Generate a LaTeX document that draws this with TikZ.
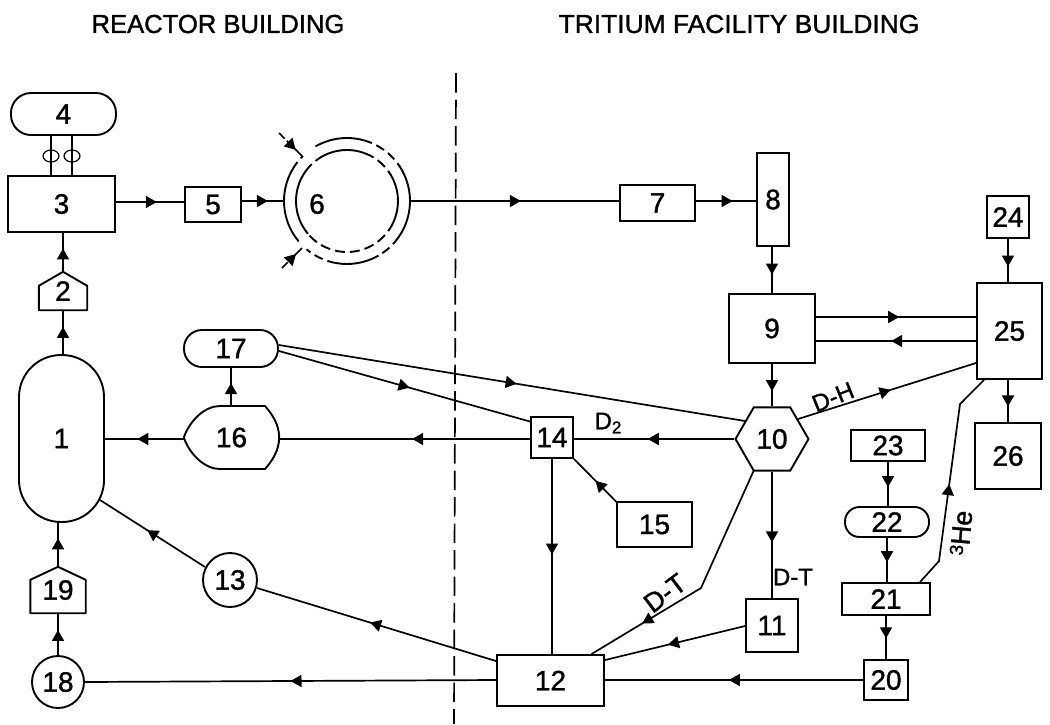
\documentclass[tikz,border=0pt]{standalone}
\usepackage{fontspec}
\setmainfont[FakeBold=0.6]{Liberation Sans}
\newfontfamily\heavy[FakeBold=1.2]{Liberation Sans}
\usetikzlibrary{arrows.meta,decorations.markings,shapes.geometric}
\tikzset{
  conn/.style={line width=1.7pt},
  mid/.style={postaction={decorate},decoration={markings,mark=at position #1 with {\arrow{Triangle[length=11pt,width=12pt]}}}},
  box/.style={draw,line width=1.9pt,rectangle,inner sep=0pt,font=\numfont,minimum width=#1},
  plainshape/.style={rectangle,inner sep=0pt,font=\numfont,minimum width=#1},
  round/.style={draw,line width=1.9pt,circle,inner sep=0pt,font=\numfont,minimum size=#1},
  lab/.style={font=\labfont,inner sep=0pt},
  outline/.style={line width=1.9pt,line join=round},
}
\newcommand{\numfont}{\heavy\fontsize{28}{28}\selectfont}
\newcommand{\labfont}{\heavy\fontsize{24}{24}\selectfont}
\begin{document}
\begin{tikzpicture}[x=1pt,y=-1pt]
\useasboundingbox (0,0) rectangle (1050,724);
\fill[white] (0,0) rectangle (1050,724);
\node[inner sep=0pt,font=\heavy\fontsize{26}{26}\selectfont] (tleft) at (218,24) {\scalebox{.985}[1]{REACTOR BUILDING}};
\node[inner sep=0pt,font=\heavy\fontsize{26}{26}\selectfont] (tright) at (739,24) {\scalebox{1.015}[1]{TRITIUM FACILITY BUILDING}};
\coordinate (divtop) at (456,73);
\coordinate (divbot) at (454,724);
\draw[line width=1.7pt,dash pattern=on 19.5pt off 7pt] (divtop) -- (divbot);
% nodes
\node[box=85,minimum height=167,rounded corners=42pt] (n1) at (61.5,438.5) {1};
\node[plainshape=48,minimum height=38] (n2) at (63,291) {\raisebox{-4pt}{2}};
\draw[outline] (n2.south west) -- (n2.south east) -- ([shift={(0,14)}]n2.north east) -- (n2.north) -- ([shift={(0,14)}]n2.north west) -- cycle;
\node[box=107,minimum height=56] (n3) at (61.5,204) {3};
\node[box=105,minimum height=42,rounded corners=20pt] (n4) at (63.5,114) {4};
\node[box=56,minimum height=35] (n5) at (213,204.5) {5};
\node[circle,minimum size=126,inner sep=0pt] (n6) at (347,201) {};
\node[inner sep=0pt,font=\numfont] (n6t) at (317,204) {6};
\begin{scope}[line width=1.9pt]
  \foreach \a/\b in {140/210,240/285,330/395,60/100}{\draw (n6.center) ++(\a:63) arc[start angle=\a,end angle=\b,radius=63];}
  \foreach \a/\b in {210/225,285/330,35/60,100/130}{\draw[dash pattern=on 9pt off 5pt] (n6.center) ++(\a:63) arc[start angle=\a,end angle=\b,radius=63];}
  \foreach \a/\b in {140/215,235/290,335/385}{\draw (n6.center) ++(\a:51) arc[start angle=\a,end angle=\b,radius=51];}
  \foreach \a/\b in {215/235,290/335,25/140}{\draw[dash pattern=on 10pt off 5pt] (n6.center) ++(\a:51) arc[start angle=\a,end angle=\b,radius=51];}
\end{scope}
\node[box=75,minimum height=36] (n7) at (657.5,203) {7};
\node[box=32,minimum height=93] (n8) at (773,199.5) {8};
\node[box=86,minimum height=69] (n9) at (772,328.5) {9};
\node[draw,line width=1.9pt,regular polygon,regular polygon sides=6,minimum size=73,inner sep=0pt,font=\numfont] (n10) at (772,439) {10};
\node[box=52,minimum height=53] (n11) at (772,625.5) {11};
\node[box=107,minimum height=51] (n12) at (550.5,680.5) {12};
\node[round=54] (n13) at (230,580) {13};
\node[box=42,minimum height=41] (n14) at (552,437.5) {14};
\node[box=75,minimum height=45] (n15) at (654.5,524.5) {15};
\node[plainshape=95,minimum height=63] (n16) at (231.5,437.5) {16};
\draw[outline] (n16.west) .. controls (190,420) and (205,406) .. (220,406) -- (265,406)
  .. controls (273,415) and (279,425) .. (n16.east) .. controls (279,450) and (273,460) .. (265,469)
  -- (220,469) .. controls (205,469) and (190,455) .. (n16.west);
\node[box=94,minimum height=37,rounded corners=18pt] (n17) at (231,348.5) {17};
\node[round=52] (n18) at (58,682) {18};
\node[plainshape=55,minimum height=46] (n19) at (58,590) {\raisebox{-2pt}{19}};
\draw[outline] (n19.south west) -- (n19.south east) -- ([shift={(0,13)}]n19.north east) -- (n19.north) -- ([shift={(0,13)}]n19.north west) -- cycle;
\node[box=44,minimum height=40] (n20) at (886,680) {20};
\node[box=88,minimum height=32] (n21) at (886,599) {21};
\node[box=84,minimum height=30,rounded corners=14.5pt] (n22) at (887,522) {22};
\node[box=74,minimum height=31] (n23) at (888,445.5) {23};
\node[box=42,minimum height=42] (n24) at (1008,217) {24};
\node[box=65,minimum height=96] (n25) at (1009.5,331) {25};
\node[box=66,minimum height=66] (n26) at (1008,456) {26};
% valves between 4 and 3
\node[draw,line width=1.2pt,ellipse,minimum width=16,minimum height=12,inner sep=0pt] (v1) at (51,156) {};
\node[draw,line width=1.2pt,ellipse,minimum width=16,minimum height=12,inner sep=0pt] (v2) at (72,156) {};
\draw[conn] (v1.center|-n4.south) -- (v1.center|-n3.north);
\draw[conn] (v2.center|-n4.south) -- (v2.center|-n3.north);
% connectors
\draw[conn,mid=.62] (n1.north-|n2.north) -- (n2.south);
\draw[conn,mid=.6] (n2.north) -- (n2.north|-n3.south);
\draw[conn,mid=.6] ([shift={(0,-2)}]n3.east) -- ([shift={(0,-2.5)}]n5.west);
\draw[conn,mid=.62] ([shift={(0,-3.5)}]n5.east) -- (n6.west);
\draw[conn,mid=.53] (n6.east) -- (n6.east-|n7.west);
\draw[conn,mid=.61] ([shift={(0,-2)}]n7.east) -- (n8.west|-n6.east);
\draw[conn,mid=.6] (n9.north|-n8.south) -- (n9.north);
\draw[conn,mid=.64] (n9.south) -- (n9.south|-n10.north);
\draw[conn,mid=.52] ([shift={(0,-11.5)}]n9.east) -- ([shift={(0,-14)}]n25.west);
\draw[conn,mid=.53] ([shift={(0,10)}]n25.west) -- ([shift={(0,12.5)}]n9.east);
\draw[conn,mid=.64] (n24.south) -- (n24.south|-n25.north);
\draw[conn,mid=.63] (n26.north|-n25.south) -- (n26.north);
\draw[conn,mid=.52] ([shift={(26,-20)}]n10.center) -- ([shift={(0,32)}]n25.west);
\draw[conn,mid=.54] (n10.center-|n10.west) -- ([shift={(0,1.5)}]n14.east);
\draw[conn,mid=.47] ([shift={(0,1.5)}]n14.west) -- ([shift={(0,1.5)}]n16.east);
\draw[conn,mid=.59] ([shift={(0,1.5)}]n16.west) -- ([shift={(0,.5)}]n1.east);
\draw[conn,mid=.6] ([shift={(-.5,0)}]n16.north) -- ([shift={(0,0)}]n17.south);
\draw[conn,mid=.52] ([shift={(0,2.5)}]n17.east) -- ([shift={(0,5.5)}]n14.north west);
\draw[conn,mid=.51] ([shift={(0,-3.5)}]n17.east) -- ([shift={(-27,-18)}]n10.center);
\draw[conn,mid=.5] ([shift={(-37.5,-22)}]n15.center) -- (n14.south east);
\draw[conn,mid=.49] (n14.south) -- (n14.south|-n12.north);
\draw[conn,mid=.77] ([shift={(-18,31)}]n10.center) -- ++(-53,118) -- ([shift={(41,0)}]n12.north);
\draw[conn,mid=.56] (n10.center|-n10.south) -- (n11.north);
\draw[conn,mid=.55] ([shift={(0,.5)}]n11.west) -- ([shift={(0,6)}]n12.north east);
\draw[conn,mid=.52] (n20.west) -- ([shift={(0,-.5)}]n12.east);
\draw[conn,mid=.5] ([shift={(0,-.5)}]n12.west) -- (n18.east);
\draw[conn,mid=.527] ([shift={(0,7)}]n12.north west) -- ([shift={(27,8)}]n13.center);
\draw[conn,mid=.55] ([shift={(-25,-13)}]n13.center) -- ([shift={(38.5,61.5)}]n1.center);
\draw[conn,mid=.6] (n18.north) -- (n19.south);
\draw[conn,mid=.65] (n19.north) -- (n19.north|-n1.south);
\draw[conn,mid=.57] (n23.south) -- (n23.south|-n22.north);
\draw[conn,mid=.55] (n22.south) -- (n22.south|-n21.north);
\draw[conn,mid=.52] (n21.south) -- (n20.north);
\draw[conn,mid=.48] ([shift={(34,0)}]n21.north) -- ++(19,-21) -- ++(21,-157) -- ([shift={(-25.5,0)}]n25.south);
% entry arrows of 6
\coordinate (pa) at (279,133);
\coordinate (pb) at (282,268);
\draw[conn,dash pattern=on 8pt off 3pt on 100pt,mid=.7] (pa) -- ([shift={(-44,-44)}]n6.center);
\draw[conn,dash pattern=on 8pt off 3pt on 100pt,mid=.7] (pb) -- ([shift={(-45,47)}]n6.center);
% labels
\node[lab] (ld2) at (608,423) {D\raisebox{-4pt}{\fontsize{17}{17}\selectfont 2}};
\node[lab] (ldt) at (793,577) {D-T};
\node[lab,rotate=37,font=\heavy\fontsize{27}{27}\selectfont] (ldt2) at (665,593) {D-T};
\node[lab,rotate=22] (ldh) at (833,397) {D-H};
\node[lab,rotate=85,font=\heavy\fontsize{27}{27}\selectfont] (lhe) at (961,533) {\raisebox{6pt}{\fontsize{19}{19}\selectfont 3}He};
\end{tikzpicture}
\end{document}
